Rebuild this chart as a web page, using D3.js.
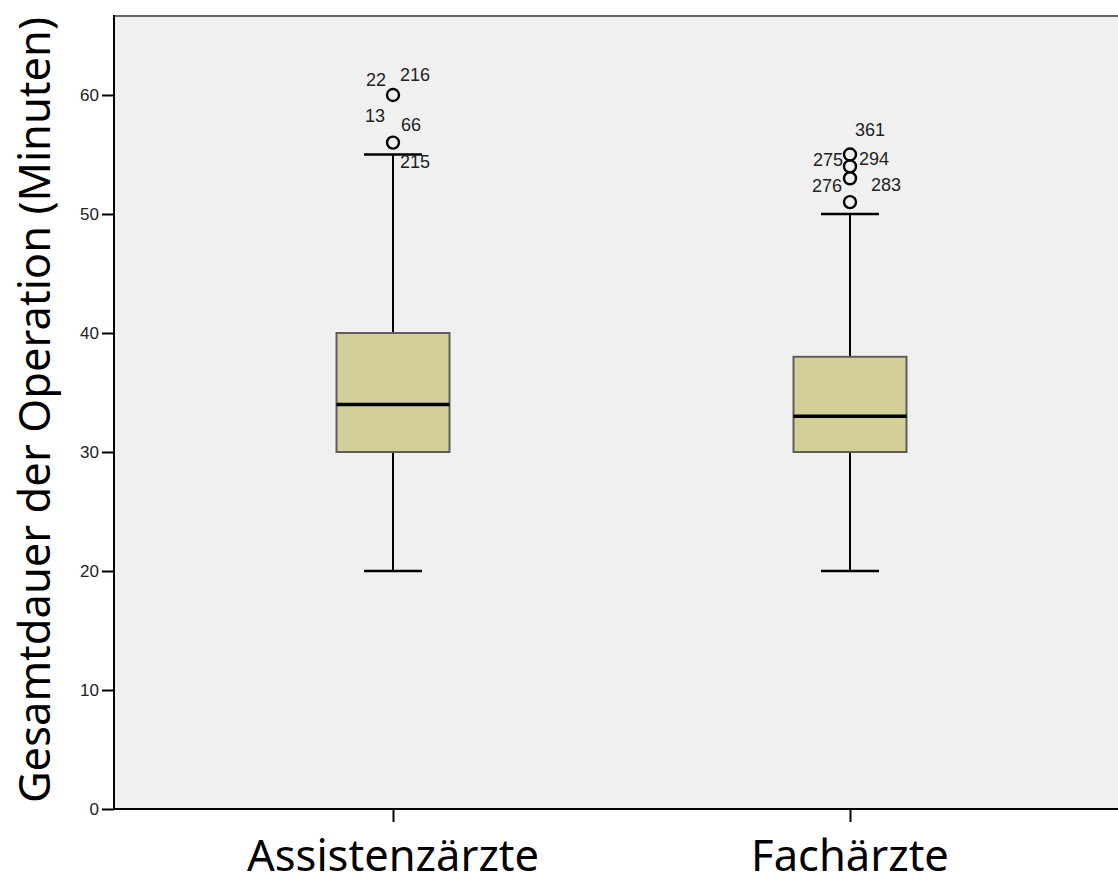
<!DOCTYPE html>
<html>
<head>
<meta charset="utf-8">
<script src="https://cdn.jsdelivr.net/npm/d3@7/dist/d3.min.js"></script>
<style>
  body { margin: 0; background: #fff; }
  .tick text { font-family: "Liberation Sans", Arial, sans-serif; font-size: 17px; fill: #222; }
  .title { font-family: "Noto Sans", sans-serif; font-size: 43.5px; fill: #000; }
  .olabel { font-family: "Liberation Sans", Arial, sans-serif; font-size: 18px; fill: #222; }
</style>
</head>
<body>
<script>
var w = 1118;
var h = 887;
var margin = { top: 15, right: 0, bottom: 78, left: 114 };
var height = h - margin.top - margin.bottom;

// groups and five-number summaries
var groups = ["Assistenzärzte", "Fachärzte"];
var mins = [20, 20];
var q1s = [30, 30];
var medians = [34, 33];
var q3s = [40, 38];
var maxs = [55, 50];

// outliers: group index, value
var outliers = [
  {g: 0, value: 60},
  {g: 0, value: 56},
  {g: 1, value: 55},
  {g: 1, value: 54},
  {g: 1, value: 53},
  {g: 1, value: 51}
];

// case ids next to the outliers: group, height of the label in minutes
var caseLabels = [
  {g: 0, id: "22",  value: 61.3},
  {g: 0, id: "216", value: 61.7},
  {g: 0, id: "13",  value: 58.3},
  {g: 0, id: "66",  value: 57.5},
  {g: 0, id: "215", value: 54.4},
  {g: 1, id: "361", value: 57.1},
  {g: 1, id: "275", value: 54.6},
  {g: 1, id: "294", value: 54.7},
  {g: 1, id: "276", value: 52.4},
  {g: 1, id: "283", value: 52.5}
];
// horizontal nudge of each id from the box centre
var labelShift = {"22": -17, "216": 22, "13": -18, "66": 18, "215": 22,
                  "361": 20, "275": -22, "294": 24, "276": -23, "283": 36};

var yTicks = [0, 10, 20, 30, 40, 50, 60];

var x = d3.scalePoint()
  .domain(groups)
  .range([393 - margin.left, 850 - margin.left]);

var y = d3.scaleLinear()
  .domain([0, 60])
  .range([height, 95 - margin.top]);

var svg = d3.select("body").append("svg")
  .attr("width", w)
  .attr("height", h);

var chart = svg.append("g")
  .attr("transform", "translate(" + margin.left + "," + margin.top + ")");

chart.append("rect")
  .attr("x", 0).attr("y", 0)
  .attr("width", w - margin.left).attr("height", height)
  .attr("fill", "#f0f0f0");

chart.append("line")
  .attr("x1", 0).attr("x2", w - margin.left)
  .attr("y1", 1).attr("y2", 1)
  .attr("stroke", "#666").attr("stroke-width", 2);

// axes
var yAxis = chart.append("g")
  .call(d3.axisLeft(y).tickValues(yTicks).tickSize(12).tickPadding(3));
yAxis.select(".domain").remove();
yAxis.selectAll(".tick line").attr("stroke", "#000").attr("stroke-width", 2);

var xAxis = chart.append("g")
  .attr("transform", "translate(0," + height + ")")
  .call(d3.axisBottom(x).tickSize(13).tickFormat(""));
xAxis.select(".domain").remove();
xAxis.selectAll(".tick line").attr("stroke", "#000").attr("stroke-width", 2);

chart.append("line")
  .attr("x1", 0).attr("x2", 0).attr("y1", 0).attr("y2", height)
  .attr("stroke", "#000").attr("stroke-width", 2);
chart.append("line")
  .attr("x1", 0).attr("x2", w - margin.left).attr("y1", height).attr("y2", height)
  .attr("stroke", "#000").attr("stroke-width", 2);

// boxes
var boxW = 113;
var capW = 58;
var boxes = chart.selectAll(".box")
  .data(groups)
  .enter().append("g")
  .classed("box", true)
  .attr("transform", (d) => "translate(" + x(d) + ",0)");

boxes.append("line")
  .attr("x1", 0).attr("x2", 0)
  .attr("y1", (d, i) => y(maxs[i])).attr("y2", (d, i) => y(mins[i]))
  .attr("stroke", "#000").attr("stroke-width", 2);

boxes.selectAll(".cap")
  .data((d, i) => [mins[i], maxs[i]])
  .enter().append("line")
  .attr("x1", -capW / 2).attr("x2", capW / 2)
  .attr("y1", (d) => y(d)).attr("y2", (d) => y(d))
  .attr("stroke", "#000").attr("stroke-width", 2.5);

boxes.append("rect")
  .attr("x", -boxW / 2)
  .attr("y", (d, i) => y(q3s[i]))
  .attr("width", boxW)
  .attr("height", (d, i) => y(q1s[i]) - y(q3s[i]))
  .attr("fill", "#d3cf98")
  .attr("stroke", "#5e5e56").attr("stroke-width", 2);

boxes.append("line")
  .attr("x1", -boxW / 2).attr("x2", boxW / 2)
  .attr("y1", (d, i) => y(medians[i])).attr("y2", (d, i) => y(medians[i]))
  .attr("stroke", "#000").attr("stroke-width", 3.5);

// outliers
chart.selectAll(".outlier")
  .data(outliers)
  .enter().append("circle")
  .attr("cx", (d) => x(groups[d.g]))
  .attr("cy", (d) => y(d.value))
  .attr("r", 6)
  .attr("fill", "none")
  .attr("stroke", "#000").attr("stroke-width", 2.4);

chart.selectAll(".olabel")
  .data(caseLabels)
  .enter().append("text")
  .classed("olabel", true)
  .attr("x", (d) => x(groups[d.g]) + labelShift[d.id])
  .attr("y", (d) => y(d.value))
  .attr("dy", "0.36em")
  .attr("text-anchor", "middle")
  .text((d) => d.id);

// titles
svg.selectAll(".cat")
  .data(groups)
  .enter().append("text")
  .classed("title", true)
  .attr("x", (d) => margin.left + x(d))
  .attr("y", 871)
  .attr("text-anchor", "middle")
  .text((d) => d);

svg.append("text")
  .classed("title", true)
  .attr("transform", "translate(50," + 410 + ") rotate(-90)")
  .attr("text-anchor", "middle")
  .text("Gesamtdauer der Operation (Minuten)");
</script>
</body>
</html>
